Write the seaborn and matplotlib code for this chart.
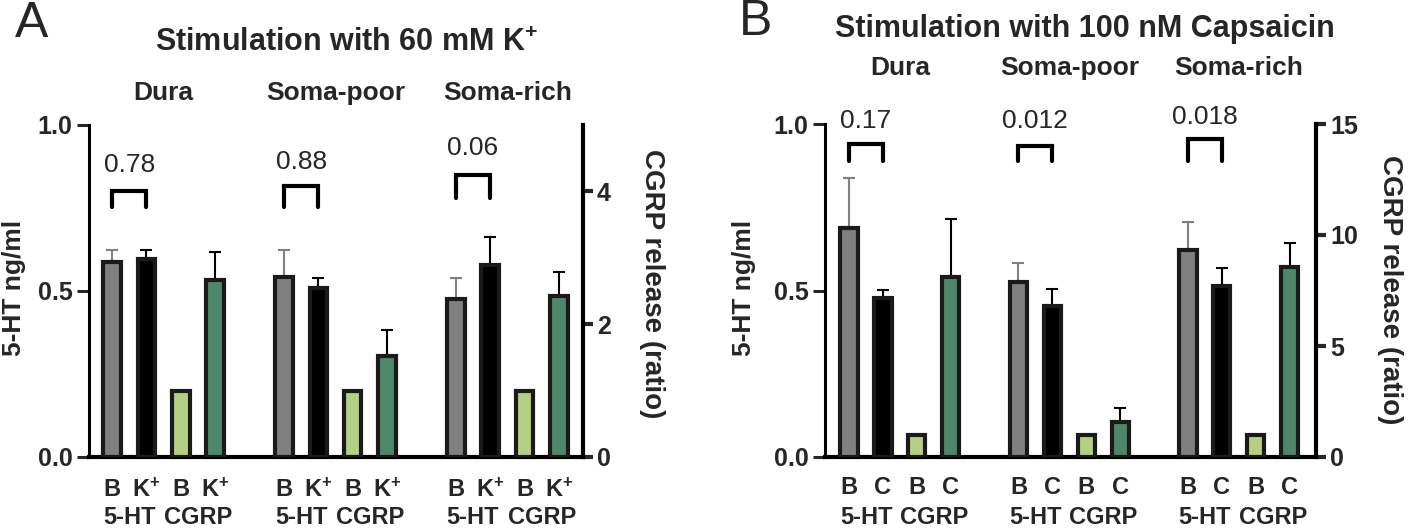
import numpy as np
import pandas as pd
import matplotlib
matplotlib.use("Agg")
import matplotlib.pyplot as plt
import matplotlib.transforms as mtransforms
import seaborn as sns

# ---- data ----
groups = ["Dura", "Soma-poor", "Soma-rich"]
row2_labels = ["5-HT", "CGRP"]

# panel A: 60 mM K+
a_ht_basal = [0.586, 0.542, 0.476]
a_ht_basal_err = [0.036, 0.083, 0.063]
a_ht_stim = [0.595, 0.509, 0.577]
a_ht_stim_err = [0.027, 0.030, 0.087]
a_cgrp_basal = [1.0, 1.0, 1.0]
a_cgrp_stim = [2.66, 1.52, 2.43]
a_cgrp_stim_err = [0.42, 0.40, 0.35]
a_pvals = ["0.78", "0.88", "0.06"]
a_ticklabels = ["B", "K$^{+}$", "B", "K$^{+}$"]

# panel B: 100 nM capsaicin
b_ht_basal = [0.687, 0.527, 0.623]
b_ht_basal_err = [0.150, 0.057, 0.082]
b_ht_stim = [0.476, 0.452, 0.515]
b_ht_stim_err = [0.027, 0.054, 0.054]
b_cgrp_basal = [1.0, 1.0, 1.0]
b_cgrp_stim = [8.1, 1.58, 8.54]
b_cgrp_stim_err = [2.6, 0.64, 1.09]
b_pvals = ["0.17", "0.012", "0.018"]
b_ticklabels = ["B", "C", "B", "C"]

GRAY = "#808080"
BLACK = "#000000"
LIGHT_GREEN = "#b9dc78"
GREEN = "#459068"
EDGE = "#1a1a1a"

W, H = 1416, 529

sns.set_style("white")
plt.rcParams["font.family"] = ["Liberation Sans", "DejaVu Sans"]
plt.rcParams["mathtext.default"] = "regular"

fig = plt.figure(figsize=(W / 100, H / 100), dpi=100)


def fx(px):
    return px / W


def fy(py):
    return 1 - py / H


def draw_panel(rect, xlim, ht_b, ht_b_err, ht_s, ht_s_err, cg_b, cg_s, cg_s_err,
               cg_max, cg_ticks, pvals, br_top, br_bot, p_y, ticklabels,
               group_y, row1_y, row2_y):
    ax = fig.add_axes(rect)
    ax2 = ax.twinx()

    def pos(k):
        return [5 * g + k for g in range(3)]

    ht = pd.DataFrame({"x": pos(0) + pos(1), "y": ht_b + ht_s,
                       "cond": ["basal"] * 3 + ["stim"] * 3})
    cg = pd.DataFrame({"x": pos(2) + pos(3), "y": cg_b + cg_s,
                       "cond": ["basal"] * 3 + ["stim"] * 3})
    bar_kw = dict(x="x", y="y", hue="cond", native_scale=True, dodge=False,
                  width=0.51, edgecolor=EDGE, linewidth=3, legend=False,
                  errorbar=None, zorder=3)
    sns.barplot(data=ht, palette={"basal": GRAY, "stim": BLACK}, ax=ax, **bar_kw)
    sns.barplot(data=cg, palette={"basal": LIGHT_GREEN, "stim": GREEN}, ax=ax2, **bar_kw)

    err_kw = dict(fmt="none", elinewidth=1.5, capsize=4.3, capthick=1.5, zorder=2)
    ax.errorbar(pos(0), ht_b, yerr=[np.zeros(3), ht_b_err], ecolor=GRAY, **err_kw)
    ax.errorbar(pos(1), ht_s, yerr=[np.zeros(3), ht_s_err], ecolor=BLACK, **err_kw)
    ax2.errorbar(pos(3), cg_s, yerr=[np.zeros(3), cg_s_err], ecolor=BLACK, **err_kw)

    # significance brackets between the two 5-HT bars
    for g in range(3):
        x0, x1 = 5 * g, 5 * g + 1
        ax.plot([x0, x0, x1, x1], [br_bot[g], br_top[g], br_top[g], br_bot[g]],
                color="black", lw=3, solid_joinstyle="miter", clip_on=False, zorder=4)
        ax.text(5 * g + 0.5, p_y[g], pvals[g], ha="center", va="center",
                fontsize=19, clip_on=False)

    ax.set_xlim(*xlim)
    ax.set_ylim(0, 1)
    ax2.set_ylim(0, cg_max)
    ax.set_yticks([0, 0.5, 1.0], ["0.0", "0.5", "1.0"])
    ax2.set_yticks(cg_ticks, [str(t) for t in cg_ticks])
    ax.set_xlabel("")
    ax.set_ylabel("")
    ax2.set_ylabel("")
    ax.set_xticks([])

    ax.tick_params(axis="y", length=9, width=2.2, labelsize=18, pad=3)
    ax2.tick_params(axis="y", length=7, width=3, labelsize=18, pad=3)
    for lab in ax.get_yticklabels() + ax2.get_yticklabels():
        lab.set_fontweight("bold")

    for s in ["top", "right"]:
        ax.spines[s].set_visible(False)
    for s in ["top", "left", "bottom"]:
        ax2.spines[s].set_visible(False)
    ax.spines["left"].set_linewidth(2.2)
    ax.spines["bottom"].set_linewidth(3)
    ax2.spines["right"].set_linewidth(3)
    for a in (ax, ax2):
        for s in a.spines.values():
            s.set_color("black")

    # group names above, two-row category labels below
    trans = mtransforms.blended_transform_factory(ax.transData, fig.transFigure)
    for g, name in enumerate(groups):
        ax.text(5 * g + 1.5, fy(group_y), name, transform=trans, ha="center",
                va="center", fontsize=19, fontweight="bold")
        for k, lab in enumerate(ticklabels):
            ax.text(5 * g + k, fy(row1_y), lab, transform=trans, ha="center",
                    va="center", fontsize=17, fontweight="bold")
        for j, lab in enumerate(row2_labels):
            ax.text(5 * g + 2 * j + 0.5, fy(row2_y), lab, transform=trans,
                    ha="center", va="center", fontsize=17, fontweight="bold")
    return ax, ax2


draw_panel([fx(89), fy(457), fx(583 - 89), 332 / H], (-0.67, 13.70),
           a_ht_basal, a_ht_basal_err, a_ht_stim, a_ht_stim_err,
           a_cgrp_basal, a_cgrp_stim, a_cgrp_stim_err, 5, [0, 2, 4],
           a_pvals, [0.80, 0.815, 0.85], [0.753, 0.753, 0.78], [0.88, 0.89, 0.93],
           a_ticklabels, 93, 490, 517)

draw_panel([fx(825), fy(457), fx(1316 - 825), 333 / H], (-0.71, 13.78),
           b_ht_basal, b_ht_basal_err, b_ht_stim, b_ht_stim_err,
           b_cgrp_basal, b_cgrp_stim, b_cgrp_stim_err, 15, [0, 5, 10, 15],
           b_pvals, [0.94, 0.934, 0.955], [0.888, 0.888, 0.888], [1.01, 1.01, 1.02],
           b_ticklabels, 68, 488, 517)

# panel letters, titles and axis labels
fig.text(fx(32), fy(24), "A", ha="center", va="center", fontsize=36)
fig.text(fx(756), fy(22), "B", ha="center", va="center", fontsize=36)
fig.text(fx(347), fy(43), "Stimulation with 60 mM K$^{+}$", ha="center", va="center",
         fontsize=22, fontweight="bold")
fig.text(fx(1085), fy(29), "Stimulation with 100 nM Capsaicin", ha="center", va="center",
         fontsize=22, fontweight="bold")

fig.text(fx(14), fy(288), "5-HT ng/ml", rotation=90, ha="center", va="center",
         fontsize=19, fontweight="bold")
fig.text(fx(652), fy(284), "CGRP release (ratio)", rotation=270, ha="center", va="center",
         fontsize=20, fontweight="bold")
fig.text(fx(744), fy(288), "5-HT ng/ml", rotation=90, ha="center", va="center",
         fontsize=19, fontweight="bold")
fig.text(fx(1390), fy(290), "CGRP release (ratio)", rotation=270, ha="center", va="center",
         fontsize=20, fontweight="bold")

fig.savefig("out.png", dpi=100)
